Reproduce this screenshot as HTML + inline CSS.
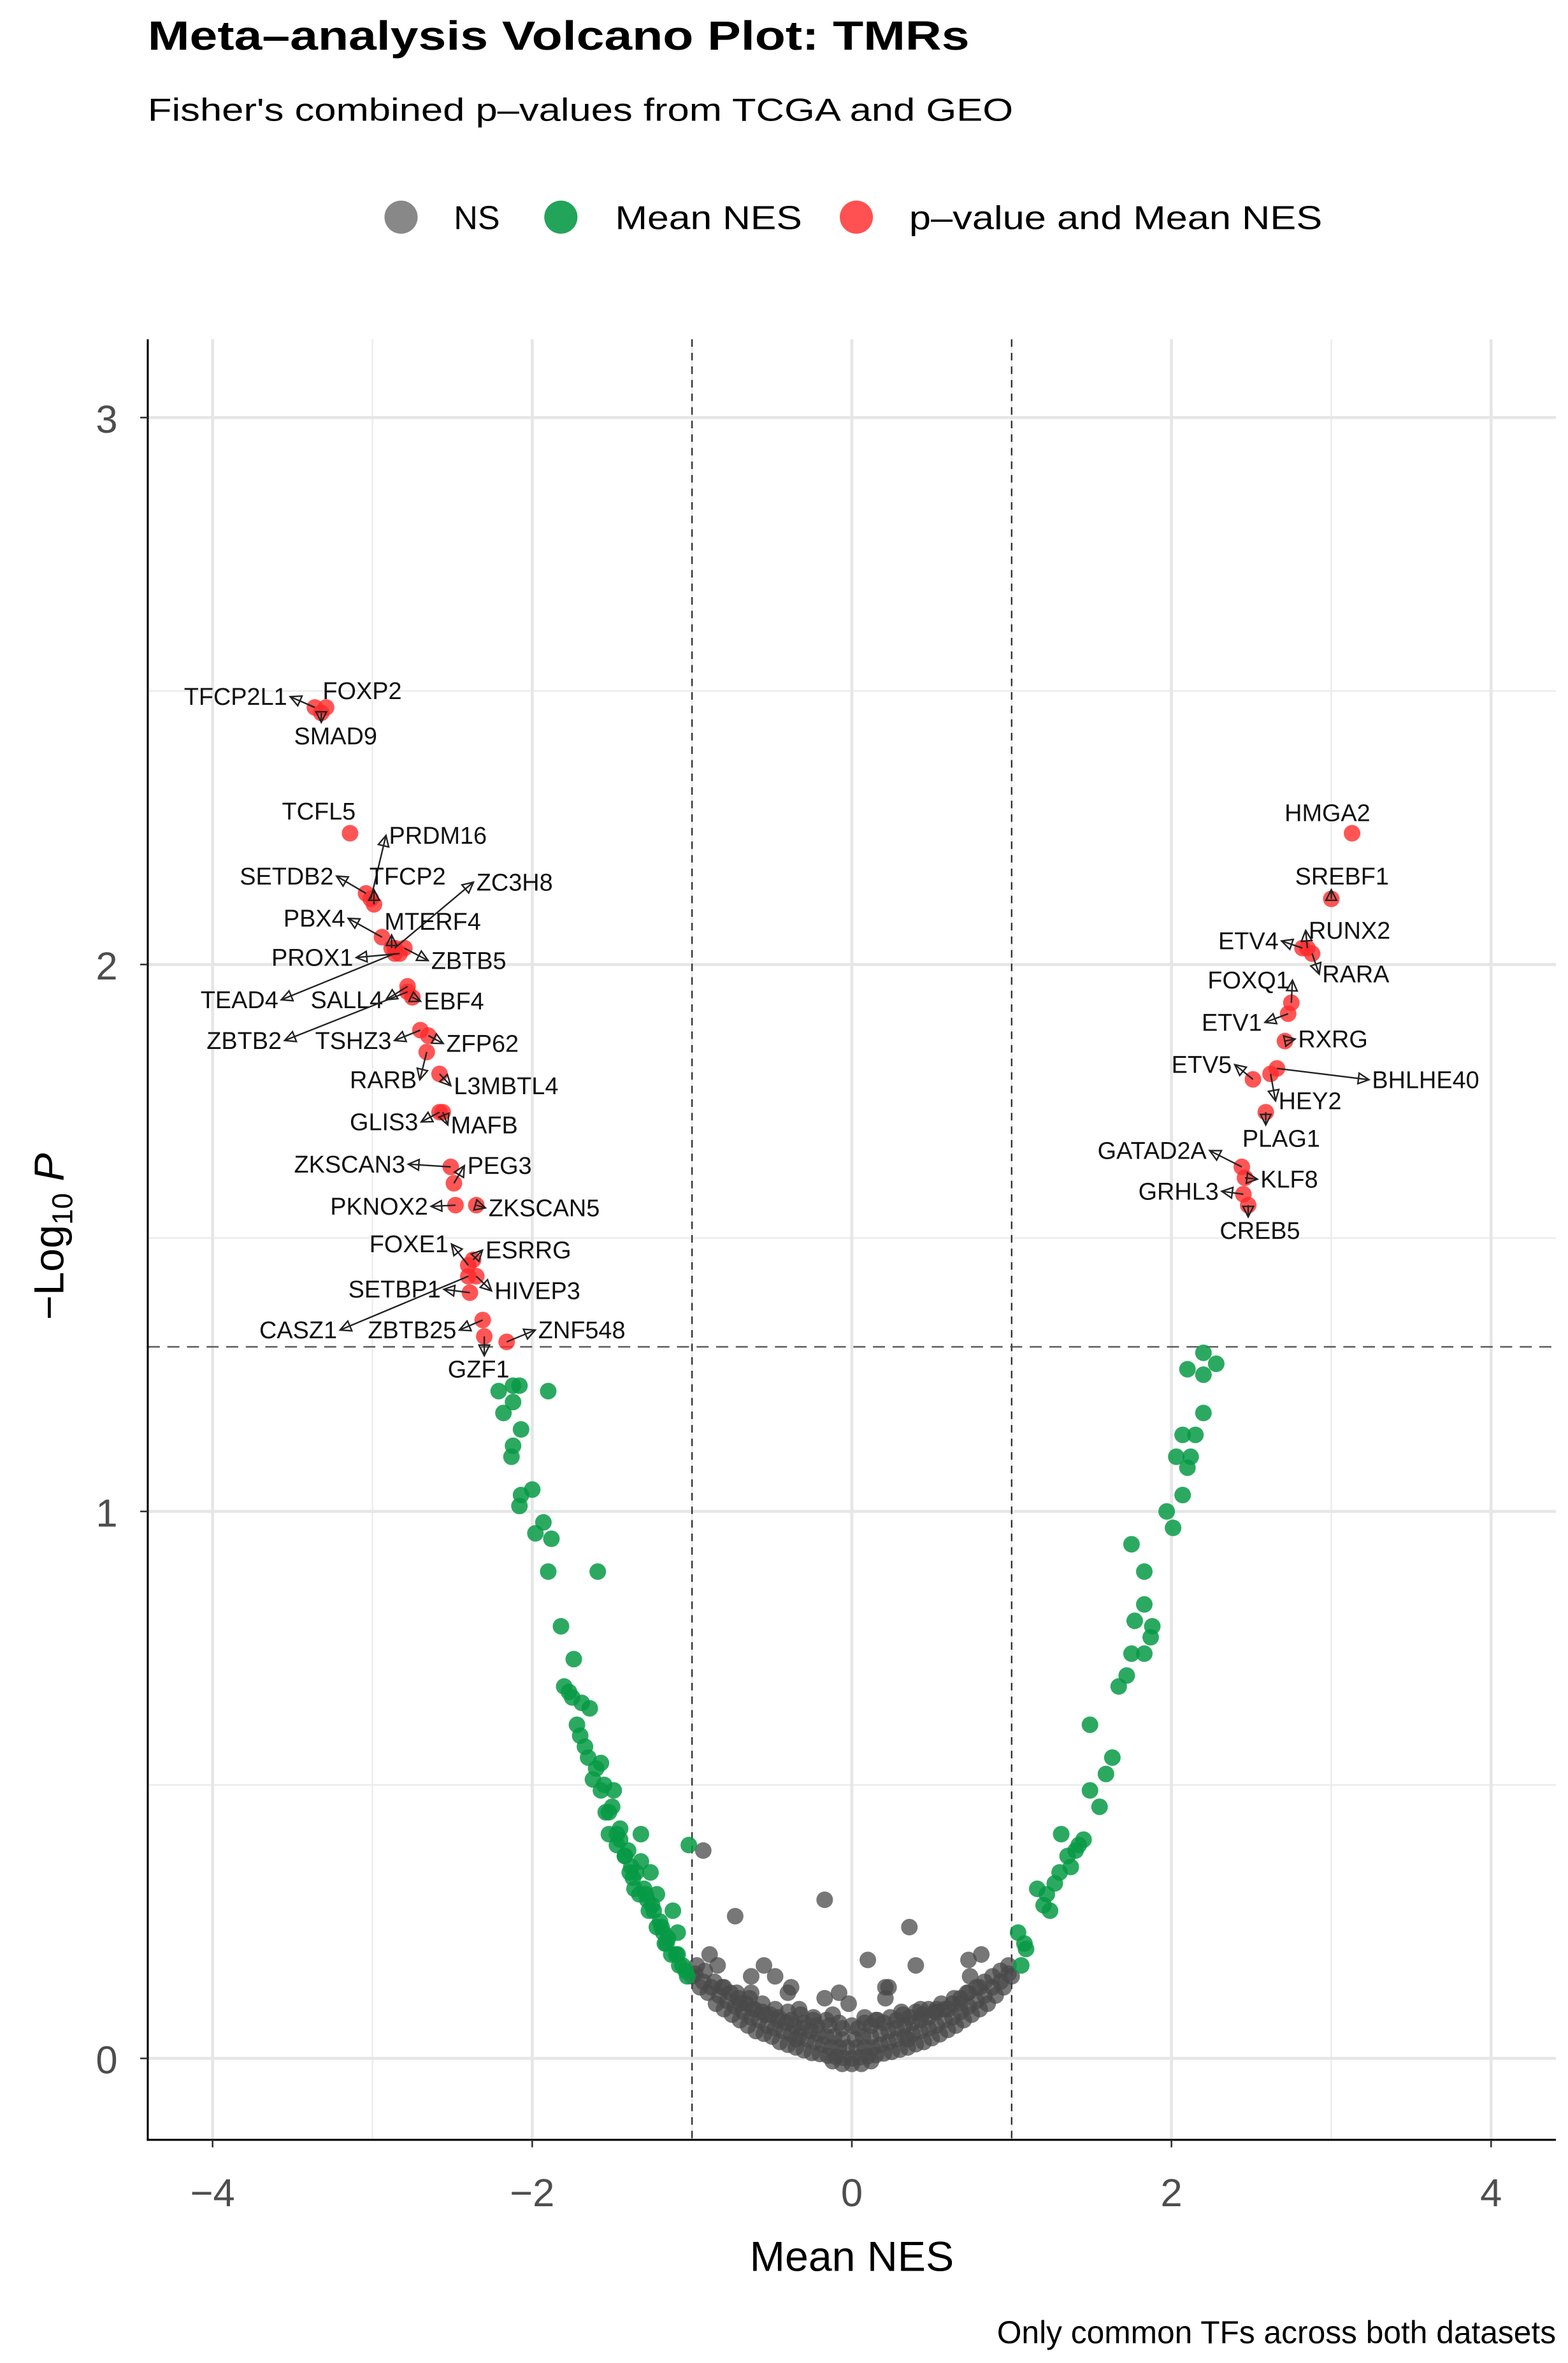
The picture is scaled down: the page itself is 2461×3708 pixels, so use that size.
<!DOCTYPE html>
<html><head><meta charset="utf-8"><style>
html,body{margin:0;padding:0;background:#fff;}
svg{display:block;font-family:"Liberation Sans",Arial,sans-serif;}
</style></head><body>
<svg id="chart" width="2461" height="3708" viewBox="0 0 1040 1567" xmlns="http://www.w3.org/2000/svg">
<rect x="0" y="0" width="1040" height="1567" fill="#fff"/>
<text x="98" y="33" font-size="27" font-weight="bold" textLength="545" lengthAdjust="spacingAndGlyphs">Meta–analysis Volcano Plot: TMRs</text>
<text x="98" y="80" font-size="21" textLength="574" lengthAdjust="spacingAndGlyphs">Fisher's combined p–values from TCGA and GEO</text>
<g>
 <g><circle cx="266" cy="144" r="11" fill="#555" fill-opacity="0.7"/><text x="301" y="152" font-size="22">NS</text></g>
 <g><circle cx="372" cy="144" r="11" fill="#0a9a48" fill-opacity="0.9"/><text x="408" y="152" font-size="22" textLength="124" lengthAdjust="spacingAndGlyphs">Mean NES</text></g>
 <g><circle cx="568" cy="144" r="11" fill="#ff3333" fill-opacity="0.85"/><text x="603" y="152" font-size="22" textLength="274" lengthAdjust="spacingAndGlyphs">p–value and Mean NES</text></g>
</g>
<g id="grid"></g>
<g id="thresholds"></g>
<g id="pts"></g>
<g id="labs"></g>
<g id="axes"></g>
<text transform="translate(42,820) rotate(-90)" text-anchor="middle" font-size="28">−Log<tspan font-size="19" dy="6">10</tspan><tspan dy="-6" font-style="italic"> P</tspan></text>
<text x="565" y="1506" text-anchor="middle" font-size="28">Mean NES</text>
<text x="1032" y="1554" text-anchor="end" font-size="21">Only common TFs across both datasets</text>
</svg>
<script>
const xTicks=[-4,-2,0,2,4];
const xTickLabels=["−4","−2","0","2","4"];
const xMinor=[-3,-1,1,3];
const yTicks=[0,1,2,3];
const yTickLabels=["0","1","2","3"];
const yMinor=[0.5,1.5,2.5];
const fcCut=[-1,1];
const pCut=[1.301];

const greyX=[-0.93,-0.17,-0.73,0.36,0.10,0.40,0.73,0.81,0.74,-0.89,-0.84,-0.63,-0.55,-0.48,-0.38,-0.40,-0.17,-0.08,0.21,0.23,0.21,0.43,0.53,-0.02,-0.63,
-1.00,-0.95,-0.90,-0.85,-0.80,-0.75,-0.70,-0.65,-0.60,-0.55,-0.50,-0.45,-0.40,-0.35,-0.30,-0.25,-0.20,-0.15,-0.10,-0.05,0.00,0.05,0.10,0.15,0.20,0.25,0.30,0.35,0.40,0.45,0.50,0.55,0.60,0.65,0.70,0.75,0.80,0.85,0.90,0.95,1.00,
-0.97,-0.92,-0.86,-0.81,-0.76,-0.71,-0.66,-0.61,-0.56,-0.51,-0.46,-0.41,-0.36,-0.31,-0.26,-0.21,-0.16,-0.11,-0.06,0.02,0.07,0.12,0.18,0.23,0.28,0.33,0.38,0.43,0.48,0.53,0.58,0.63,0.68,0.73,0.78,0.83,0.88,0.93,0.98,
-0.70,-0.62,-0.54,-0.46,-0.38,-0.30,-0.22,-0.14,-0.06,0.04,0.12,0.20,0.28,0.36,0.44,0.52,0.60,0.68,-0.33,-0.12,0.08,0.31,0.15,-0.24,
-0.98,-0.93,-0.88,-0.83,-0.78,-0.73,-0.68,-0.63,-0.58,-0.53,-0.48,-0.43,-0.38,-0.33,-0.28,-0.23,-0.18,-0.13,-0.08,-0.03,0.03,0.08,0.13,0.18,0.23,0.28,0.33,0.38,0.43,0.48,0.53,0.58,0.63,0.68,0.73,0.78,0.83,0.88,0.93,0.98,
-0.80,-0.72,-0.64,-0.56,-0.48,-0.40,-0.32,-0.24,-0.16,-0.08,0.00,0.08,0.16,0.24,0.32,0.40,0.48,0.56,0.64,0.72,0.80,
-0.12,-0.06,0.00,0.06,0.12,-0.35,0.35];
const greyY=[0.38,0.29,0.26,0.24,0.18,0.17,0.18,0.19,0.15,0.19,0.17,0.15,0.17,0.15,0.13,0.12,0.11,0.12,0.13,0.13,0.11,0.09,0.09,0.10,0.12,
0.15,0.13,0.12,0.10,0.09,0.08,0.07,0.06,0.05,0.045,0.04,0.03,0.025,0.02,0.015,0.01,0.008,0.005,0.003,0.001,0.0,0.002,0.004,0.006,0.009,0.012,0.016,0.02,0.026,0.03,0.037,0.044,0.052,0.06,0.07,0.08,0.09,0.10,0.115,0.13,0.15,
0.17,0.16,0.14,0.13,0.12,0.11,0.10,0.09,0.085,0.08,0.07,0.065,0.06,0.055,0.05,0.045,0.04,0.04,0.035,0.035,0.04,0.04,0.045,0.05,0.055,0.06,0.065,0.07,0.075,0.085,0.09,0.10,0.11,0.12,0.13,0.14,0.15,0.16,0.17,
0.10,0.09,0.08,0.075,0.07,0.065,0.06,0.06,0.055,0.055,0.06,0.065,0.07,0.075,0.08,0.085,0.09,0.10,0.09,0.08,0.075,0.085,0.07,0.07,
0.155,0.14,0.13,0.115,0.105,0.095,0.085,0.075,0.07,0.06,0.055,0.05,0.045,0.04,0.035,0.03,0.025,0.02,0.02,0.02,0.02,0.02,0.02,0.025,0.03,0.035,0.04,0.045,0.05,0.055,0.06,0.07,0.075,0.085,0.095,0.105,0.115,0.13,0.14,0.155,
0.13,0.12,0.11,0.10,0.09,0.085,0.08,0.075,0.07,0.065,0.06,0.065,0.07,0.075,0.08,0.085,0.09,0.10,0.11,0.12,0.13,
-0.005,-0.01,-0.01,-0.01,-0.005,0.035,0.035];

const greenX=[-2.21,-2.12,-2.08,-2.18,-2.12,-1.90,-2.07,-2.12,-2.13,-2.07,-2.00,-2.08,-1.93,-1.98,-1.88,-1.90,-1.59,-1.82,-1.74,-1.80,-1.77,-1.69,-1.64,-1.70,-1.67,-1.65,-1.57,-1.62,-1.49,-1.54,-1.52,-1.32,-1.47,-1.42,-1.32,-1.39,-1.26,-1.36,-1.29,-1.22,-1.24,-1.12,-1.19,-1.09,-1.16,-1.09,-1.04,-1.02,
-1.55,-1.50,-1.45,-1.40,-1.35,-1.30,-1.25,-1.20,-1.15,-1.10,-1.06,-1.45,-1.38,-1.28,-1.18,-1.60,-1.72,-1.75,
-1.57,-1.52,-1.47,-1.42,-1.37,-1.33,-1.27,-1.22,-1.17,-1.13,-1.08,-1.03,
2.20,2.28,2.10,2.20,2.20,2.07,2.15,2.03,2.12,2.10,2.07,1.97,2.01,1.75,1.83,1.83,1.77,1.88,1.87,1.75,1.83,1.72,1.67,1.49,1.63,1.59,1.49,1.55,1.31,1.45,1.40,1.37,1.27,1.16,1.22,1.24,1.04,1.09,1.06,1.20,1.30,1.35,1.42,1.08];
const greenY=[1.22,1.23,1.23,1.18,1.20,1.22,1.15,1.12,1.10,1.03,1.04,1.01,0.98,0.96,0.95,0.89,0.89,0.79,0.73,0.68,0.67,0.65,0.64,0.59,0.57,0.55,0.54,0.51,0.49,0.45,0.41,0.41,0.39,0.37,0.36,0.34,0.34,0.31,0.30,0.30,0.27,0.27,0.24,0.23,0.21,0.19,0.16,0.39,
0.50,0.46,0.42,0.38,0.34,0.31,0.28,0.25,0.22,0.19,0.17,0.40,0.35,0.29,0.23,0.53,0.61,0.66,
0.49,0.45,0.41,0.37,0.33,0.30,0.27,0.24,0.21,0.19,0.17,0.15,
1.29,1.27,1.26,1.25,1.18,1.14,1.14,1.10,1.10,1.08,1.03,1.00,0.97,0.94,0.89,0.83,0.80,0.79,0.77,0.74,0.74,0.70,0.68,0.61,0.55,0.52,0.49,0.46,0.41,0.40,0.38,0.35,0.32,0.31,0.30,0.27,0.23,0.20,0.17,0.28,0.34,0.37,0.39,0.21];

const labNames=["TFCP2L1","FOXP2","SMAD9","TCFL5","PRDM16","SETDB2","TFCP2","ZC3H8","PBX4","MTERF4","PROX1","ZBTB5","TEAD4","SALL4","EBF4","ZBTB2","TSHZ3","ZFP62","RARB","L3MBTL4","GLIS3","MAFB","ZKSCAN3","PEG3","PKNOX2","ZKSCAN5","FOXE1","ESRRG","SETBP1","HIVEP3","CASZ1","ZBTB25","ZNF548","GZF1",
"HMGA2","SREBF1","RUNX2","ETV4","RARA","FOXQ1","ETV1","RXRG","ETV5","HEY2","BHLHE40","PLAG1","GATAD2A","KLF8","GRHL3","CREB5"];
const labX=[-3.36,-3.29,-3.32,-3.14,-3.01,-3.04,-2.99,-2.86,-2.94,-2.88,-2.83,-2.80,-2.86,-2.78,-2.75,-2.78,-2.70,-2.65,-2.66,-2.58,-2.58,-2.56,-2.51,-2.49,-2.48,-2.35,-2.40,-2.37,-2.39,-2.35,-2.40,-2.31,-2.16,-2.30,
3.13,3.00,2.85,2.82,2.88,2.75,2.73,2.71,2.51,2.62,2.66,2.59,2.44,2.46,2.45,2.48];
const labY=[2.47,2.47,2.46,2.24,2.12,2.13,2.11,2.03,2.05,2.03,2.02,2.03,2.02,1.96,1.94,1.95,1.88,1.87,1.84,1.80,1.73,1.73,1.63,1.60,1.56,1.56,1.45,1.46,1.40,1.43,1.43,1.35,1.31,1.32,
2.24,2.12,2.03,2.03,2.02,1.93,1.91,1.86,1.79,1.80,1.81,1.73,1.63,1.61,1.58,1.56];
// label layout (text left x / centre y, in canvas units)
const labTx=[122,214,195,187,258,159,245,316,188,255,180,286,133,206,281,137,209,296,232,301,232,299,195,310,219,324,245,322,231,328,172,244,357,297,
852,859,868,808,877,801,797,861,777,848,910,824,728,836,755,809];
const labTy=[462,458,488,538,554,581,581,585,609,611,635,637,663,663,664,690,690,692,716,720,744,746,772,773,800,801,825,829,855,856,882,882,882,908,
539,581,617,624,646,650,678,689,706,730,716,755,763,782,790,816];

const X0=565, XU=106, Y0=1365, YU=362.7;
const L=98, R=1032, T=225, B=1419;
const sx=v=>X0+v*XU, sy=v=>Y0-v*YU;
const NS="http://www.w3.org/2000/svg";
function mk(tag,attrs,parent){const e=document.createElementNS(NS,tag);for(const k in attrs)e.setAttribute(k,attrs[k]);parent.appendChild(e);return e;}

const grid=document.getElementById('grid');
xMinor.forEach(v=>{const l=mk('line',{x1:sx(v),x2:sx(v),y1:T,y2:B,stroke:'#ebebeb','stroke-width':1},grid);

});
yMinor.forEach(v=>{const l=mk('line',{x1:L,x2:R,y1:sy(v),y2:sy(v),stroke:'#ebebeb','stroke-width':1},grid);

});
xTicks.forEach(v=>{const l=mk('line',{x1:sx(v),x2:sx(v),y1:T,y2:B,stroke:'#e6e6e6','stroke-width':2},grid);

});
yTicks.forEach(v=>{const l=mk('line',{x1:L,x2:R,y1:sy(v),y2:sy(v),stroke:'#e6e6e6','stroke-width':2},grid);

});

const th=document.getElementById('thresholds');
fcCut.forEach(v=>{const l=mk('line',{x1:sx(v),x2:sx(v),y1:T,y2:B,stroke:'#333','stroke-width':1,'stroke-dasharray':'5,4'},th);

});
pCut.forEach(v=>{const l=mk('line',{x1:L,x2:R,y1:sy(v),y2:sy(v),stroke:'#555','stroke-width':1,'stroke-dasharray':'8,5'},th);

});

const pts=document.getElementById('pts');
greyX.forEach((v,i)=>{const c=mk('circle',{cx:sx(v),cy:sy(greyY[i]),r:5.5,fill:'#4a4a4a','fill-opacity':0.75},pts);

});
greenX.forEach((v,i)=>{const c=mk('circle',{cx:sx(v),cy:sy(greenY[i]),r:5.5,fill:'#079a45','fill-opacity':0.85},pts);

});
labX.forEach((v,i)=>{const c=mk('circle',{cx:sx(v),cy:sy(labY[i]),r:5.5,fill:'#ff2a2a','fill-opacity':0.8},pts);

});

const labs=document.getElementById('labs');
labNames.forEach((n,i)=>{
 const t=mk('text',{x:labTx[i],y:labTy[i]+5.5,'font-size':16,fill:'#111'},labs);
 t.textContent=n;
 
 
 const w=t.getComputedTextLength();
 const px=sx(labX[i]), py=sy(labY[i]);
 let ex,ey=labTy[i];
 if(px>labTx[i]+w) ex=labTx[i]+w+2; else if(px<labTx[i]) ex=labTx[i]-2; else {ex=px; ey=(py<labTy[i])?labTy[i]-9:labTy[i]+9;}
 const dx=ex-px, dy=ey-py, d=Math.hypot(dx,dy);
 if(d>6){
  const ux=dx/d, uy=dy/d;
  const a=mk('line',{x1:px,y1:py,x2:ex,y2:ey,stroke:'#222','stroke-width':1},labs);
  
  
  const bx=ex-ux*7, by=ey-uy*7;
  const p=mk('polygon',{points:`${ex},${ey} ${bx-uy*3.5},${by+ux*3.5} ${bx+uy*3.5},${by-ux*3.5}`,fill:'none',stroke:'#222','stroke-width':1},labs);
  
  
 }
});

const ax=document.getElementById('axes');
const yl=mk('line',{x1:L,x2:L,y1:T,y2:B+0.6,stroke:'#000','stroke-width':1.3},ax);


const xl=mk('line',{x1:L-0.6,x2:R,y1:B,y2:B,stroke:'#000','stroke-width':1.3},ax);


xTicks.forEach((v,i)=>{
 const tk=mk('line',{x1:sx(v),x2:sx(v),y1:B,y2:B+5,stroke:'#333','stroke-width':1.1},ax);
 
 
 const t=mk('text',{x:sx(v),y:1463,'text-anchor':'middle','font-size':26,fill:'#4d4d4d'},ax);
 t.textContent=xTickLabels[i];
 
 
});
yTicks.forEach((v,i)=>{
 const tk=mk('line',{x1:L-5,x2:L,y1:sy(v),y2:sy(v),stroke:'#333','stroke-width':1.1},ax);
 
 
 const t=mk('text',{x:78,y:sy(v)+10,'text-anchor':'end','font-size':26,fill:'#4d4d4d'},ax);
 t.textContent=yTickLabels[i];
 
 
});
</script>
</body></html>
